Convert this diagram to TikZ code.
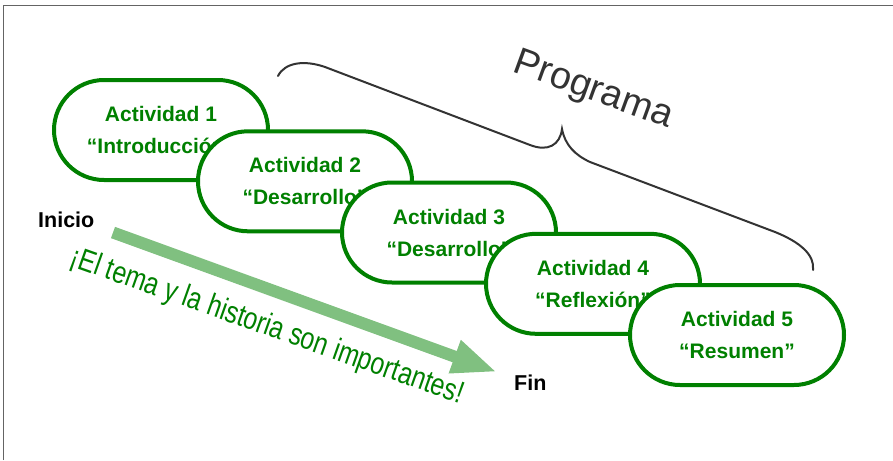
\documentclass[tikz,border=0pt]{standalone}
\usepackage{fontspec}
\setmainfont{Liberation Sans}
\newfontfamily\narrowfont[FakeStretch=0.8]{Liberation Sans}
\usetikzlibrary{arrows.meta}
\definecolor{actgreen}{RGB}{0,128,0}
\definecolor{arrowgreen}{RGB}{128,192,128}
\definecolor{bracegray}{RGB}{51,51,51}
\definecolor{framegray}{RGB}{100,100,100}
\begin{document}
\begin{tikzpicture}[x=1pt,y=-1pt,
  actbox/.style={draw=actgreen, fill=white, line width=4pt, rounded corners=50pt,
    minimum width=214pt, minimum height=100pt, inner sep=0pt, text=actgreen,
    font=\fontsize{21}{32}\selectfont\bfseries, align=center},
  endlabel/.style={anchor=base west, inner sep=0pt, font=\fontsize{21.5}{24}\selectfont\bfseries, text=black},
  bracestyle/.style={draw=bracegray, line width=2pt, line cap=round},
  flowarrow/.style={draw=arrowgreen, line width=12pt, -{Triangle[length=45pt,width=32pt]}}
]
\useasboundingbox (0,0) rectangle (893,460);
\draw[framegray, line width=1.8pt] (3.5,460) -- (3.5,5.5) -- (893,5.5);

% brace
\draw[bracestyle] (278,76) .. controls (285,62) and (305,60) .. (325,67)
  -- (530,145) .. controls (548,152) and (560,145) .. (562,129)
  .. controls (565,145) and (575,155) .. (590,162)
  -- (775,232) .. controls (800,242) and (815,255) .. (813,270);
\node[rotate=-20, text=bracegray, font=\fontsize{38}{42}\selectfont, inner sep=0pt] (prog) at (593,91) {Programa};

% activities
\node[actbox] (a1) at (161,130) {Actividad 1\\“Introducción”};
\node[actbox] (a2) at (305,181.3) {Actividad 2\\“Desarrollo”};
\node[actbox] (a3) at (449,232.5) {Actividad 3\\“Desarrollo”};
\node[actbox] (a4) at (593,283.8) {Actividad 4\\“Reflexión”};
\node[actbox] (a5) at (737,335) {Actividad 5\\“Resumen”};

% labels
\node[endlabel] (inicio) at (38,227) {Inicio};
\node[endlabel] (fin) at (514,390) {Fin};

% arrow
\coordinate (as) at (113,232.5);
\coordinate (ae) at (497,372);
\draw[flowarrow] (as) -- (ae);

\node[rotate=-19.5, text=actgreen, font=\narrowfont\fontsize{31}{34}\selectfont, inner sep=0pt] (motto) at (267,327) {¡El tema y la historia son importantes!};
\end{tikzpicture}
\end{document}
